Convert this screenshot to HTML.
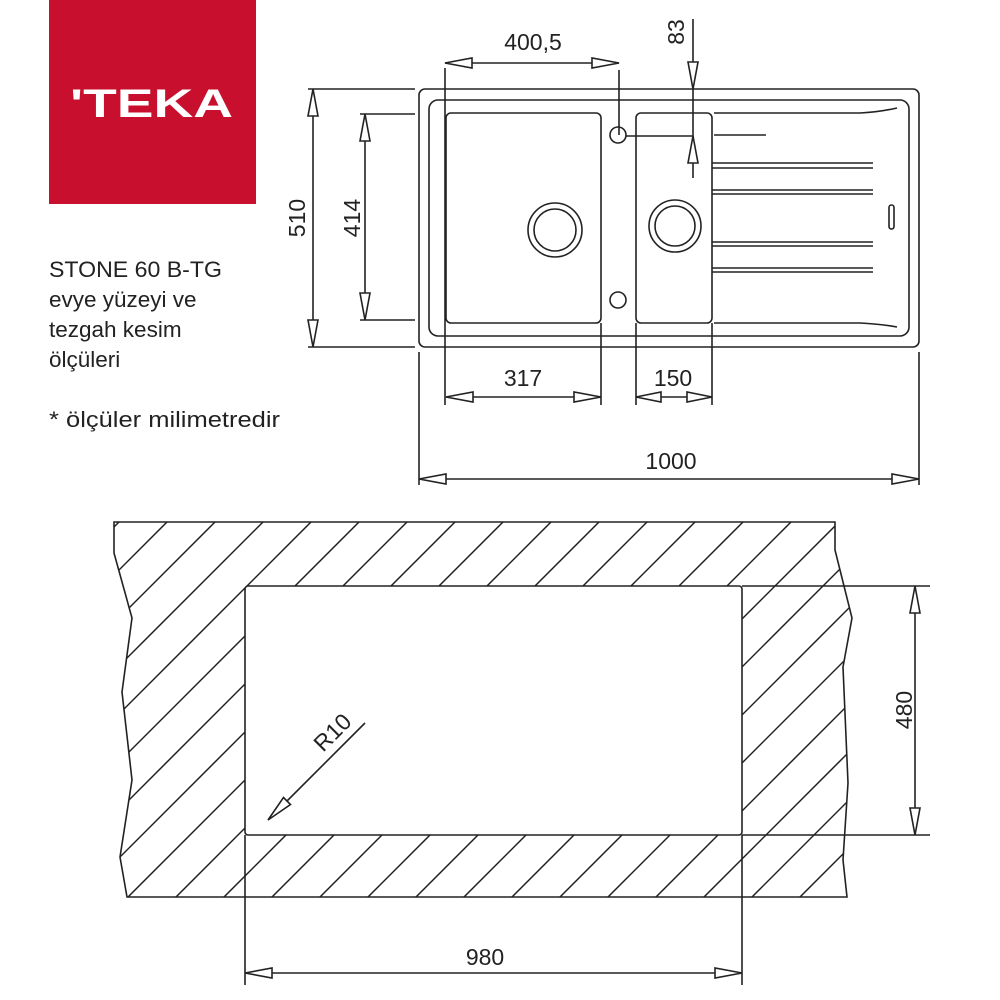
<!DOCTYPE html>
<html><head><meta charset="utf-8"><style>
html,body{margin:0;padding:0;background:#fff}
svg{display:block}
text{font-family:"Liberation Sans",sans-serif;fill:#222}
</style></head><body>
<svg width="1000" height="1000" viewBox="0 0 1000 1000" xmlns="http://www.w3.org/2000/svg">
<rect x="49" y="0" width="207" height="204" fill="#c8102e"/>
<text x="70" y="117" font-size="40" font-weight="bold" style="fill:#fff" textLength="163" lengthAdjust="spacingAndGlyphs">'TEKA</text>
<g font-size="22.5">
<text x="49" y="277" textLength="173" lengthAdjust="spacingAndGlyphs">STONE 60 B-TG</text>
<text x="49" y="307">evye yüzeyi ve</text>
<text x="49" y="337">tezgah kesim</text>
<text x="49" y="367">ölçüleri</text>
<text x="49" y="427" textLength="231" lengthAdjust="spacingAndGlyphs">* ölçüler milimetredir</text>
</g>
<g fill="none" stroke="#222" stroke-width="1.6">
<rect x="419" y="89" width="500" height="258" rx="6"/>
<rect x="429" y="100" width="480" height="236" rx="9"/>
<rect x="446" y="113" width="155" height="210" rx="5"/>
<rect x="636" y="113" width="76" height="210" rx="5"/>
<circle cx="555" cy="230" r="27"/><circle cx="555" cy="230" r="21"/>
<circle cx="675" cy="226" r="26"/><circle cx="675" cy="226" r="20"/>
<circle cx="618" cy="135" r="8"/><circle cx="618" cy="300" r="8"/>
<path d="M714 113 L860 113 Q880 112 897 108 M714 323 L860 323 Q880 324 897 327"/>
<path d="M714 135 H766 M712 163 H873 M712 168 H873 M712 190 H873 M712 194 H873 M712 242 H873 M712 246 H873 M712 268 H873 M712 272 H873"/>
<rect x="889" y="205" width="5" height="24" rx="2.5"/>
<path d="M445 68 V405 M619 70 V135 M445 63 H619 M693 19 V178 M626 136 H693"/>
<path d="M308 89 H415 M308 347 H415 M313 89 V347 M360 114 H415 M360 320 H415 M365 114 V320"/>
<path d="M601 323 V405 M636 323 V405 M712 323 V405 M446 397 H601 M636 397 H712"/>
<path d="M419 352 V485 M919 352 V485 M419 479 H919"/>
<g fill="#fff">
<polygon points="445,63 472,58 472,68"/><polygon points="619,63 592,58 592,68"/>
<polygon points="693,89 688,62 698,62"/><polygon points="693,136 688,163 698,163"/>
<polygon points="313,89 308,116 318,116"/><polygon points="313,347 308,320 318,320"/>
<polygon points="365,114 360,141 370,141"/><polygon points="365,320 360,293 370,293"/>
<polygon points="446,397 473,392 473,402"/><polygon points="601,397 574,392 574,402"/>
<polygon points="636,397 661,392 661,402"/><polygon points="712,397 687,392 687,402"/>
<polygon points="419,479 446,474 446,484"/><polygon points="919,479 892,474 892,484"/>
</g>
</g>
<g font-size="23">
<text x="533" y="50" text-anchor="middle">400,5</text>
<text transform="translate(684,32) rotate(-90)" text-anchor="middle">83</text>
<text transform="translate(305,218) rotate(-90)" text-anchor="middle">510</text>
<text transform="translate(360,218) rotate(-90)" text-anchor="middle">414</text>
<text x="523" y="386" text-anchor="middle">317</text>
<text x="673" y="386" text-anchor="middle">150</text>
<text x="671" y="469" text-anchor="middle">1000</text>
<text transform="translate(912,710) rotate(-90)" text-anchor="middle">480</text>
<text x="485" y="965" text-anchor="middle">980</text>
<text transform="translate(338,738) rotate(-45)" text-anchor="middle">R10</text>
</g>
<defs>
<clipPath id="hc"><path clip-rule="evenodd" d="M114 522 H835 V550 L852 618 L843 667 L848 783 L843 860 L847 897 H127 L120 857 L132 780 L122 692 L132 618 L114 553 Z M245 586 H742 V835 H245 Z"/></clipPath>
</defs>
<g clip-path="url(#hc)" stroke="#222" stroke-width="1.5" fill="none">
<path d="M93 500L-307 900M141 500L-259 900M189 500L-211 900M237 500L-163 900M285 500L-115 900M333 500L-67 900M381 500L-19 900M429 500L29 900M477 500L77 900M525 500L125 900M573 500L173 900M621 500L221 900M669 500L269 900M717 500L317 900M765 500L365 900M813 500L413 900M861 500L461 900M909 500L509 900M957 500L557 900M1005 500L605 900M1053 500L653 900M1101 500L701 900M1149 500L749 900M1197 500L797 900M1245 500L845 900"/>
</g>
<g fill="none" stroke="#222" stroke-width="1.6">
<path d="M114 522 H835 V550 L852 618 L843 667 L848 783 L843 860 L847 897 H127 L120 857 L132 780 L122 692 L132 618 L114 553 Z"/>
<rect x="245" y="586" width="497" height="249" rx="3"/>
<path d="M742 586 H930 M742 835 H930 M915 586 V835 M245 835 V985 M742 835 V985 M245 973 H742 M365 723 L268 820"/>
<g fill="#fff">
<polygon points="915,586 910,613 920,613"/><polygon points="915,835 910,808 920,808"/>
<polygon points="245,973 272,968 272,978"/><polygon points="742,973 715,968 715,978"/>
<polygon points="268,820 290.5,804.5 283.5,797.5"/>
</g>
</g>
</svg>
</body></html>
